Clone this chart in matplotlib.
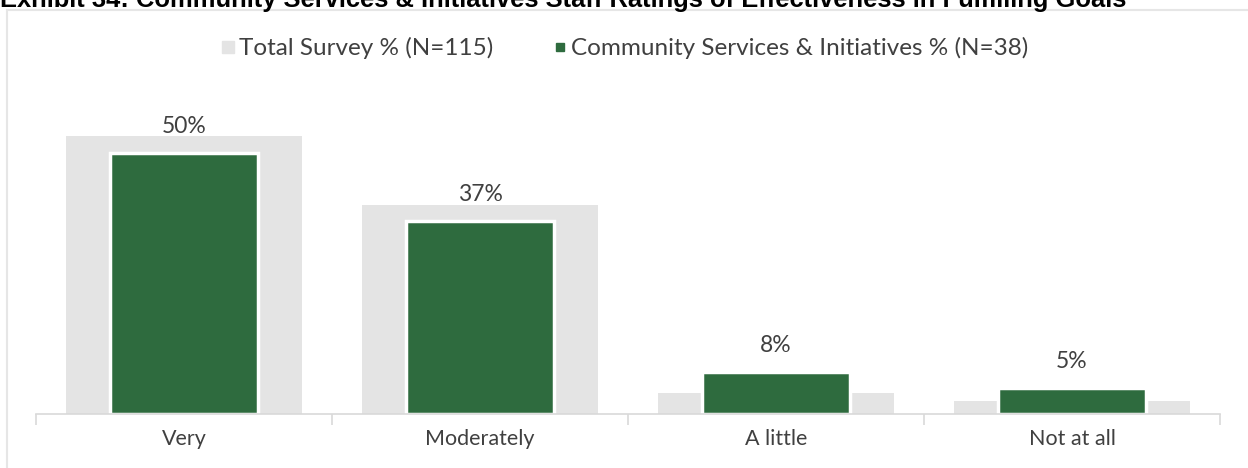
import numpy as np
import matplotlib
matplotlib.use("Agg")
import matplotlib.pyplot as plt
from matplotlib.patches import Rectangle
from matplotlib.lines import Line2D

categories = ["Very", "Moderately", "A little", "Not at all"]
total_pct = [53.3, 40.0, 4.1, 2.4]
csi_pct = [50, 37, 8, 5]
legend_labels = ["Total Survey % (N=115)", "Community Services & Initiatives % (N=38)"]
title = "Exhibit 34: Community Services & Initiatives Staff Ratings of Effectiveness in Fulfilling Goals"

GRAY = "#e4e4e4"
GREEN = "#2e6b3e"
TXT = "#404040"
LINE = "#d9d9d9"

plt.rcParams["font.family"] = ["Lato", "DejaVu Sans"]

fig = plt.figure(figsize=(12.48, 4.68), dpi=100)

# outer chart frame
fig.patches.append(Rectangle((6.5 / 1248, -0.05), 1.1, (468 - 10) / 468 + 0.05,
                             transform=fig.transFigure, fill=False,
                             edgecolor="#e6e6e6", lw=1.5))

fig.text(0.0, 1 - 7 / 468, title, fontsize=18.4, fontweight="bold",
         family="Liberation Sans", color="black", va="baseline", ha="left")

ax = fig.add_axes([36 / 1248, 54 / 468, (1220 - 36) / 1248, (414 - 101) / 468])
x = np.arange(len(categories))
ax.bar(x, total_pct, width=0.8, color=GRAY, zorder=1)
bars = ax.bar(x, csi_pct, width=0.5, color=GREEN, edgecolor="white",
              linewidth=2.5, zorder=2)

for xi, v in zip(x, csi_pct):
    ax.annotate(f"{v}%", (xi, v), xytext=(0, 19), textcoords="offset points",
                ha="center", va="center", fontsize=16.5, color=TXT)

ax.set_xlim(-0.5, len(categories) - 0.5)
ax.set_ylim(0, 60)
ax.set_yticks([])
for s in ["left", "right", "top"]:
    ax.spines[s].set_visible(False)
ax.spines["bottom"].set_color(LINE)
ax.spines["bottom"].set_linewidth(1.2)

# category boundary ticks
ax.set_xticks(np.arange(len(categories) + 1) - 0.5, minor=True)
ax.tick_params(axis="x", which="minor", length=8, color=LINE, width=1.2)
ax.set_xticks(x)
ax.set_xticklabels(categories, fontsize=15.5, color=TXT)
ax.tick_params(axis="x", which="major", length=0, pad=11)

handles = [Line2D([], [], marker="s", ls="", color=GRAY, markersize=9),
           Line2D([], [], marker="s", ls="", color=GREEN, markersize=6)]
fig.legend(handles, legend_labels, loc="center", bbox_to_anchor=(0.5, 1 - 48 / 468),
           ncol=2, frameon=False, fontsize=17.5, labelcolor=TXT,
           handletextpad=0.1, columnspacing=2.4, handlelength=0.7)

fig.savefig("out.png", dpi=100)
